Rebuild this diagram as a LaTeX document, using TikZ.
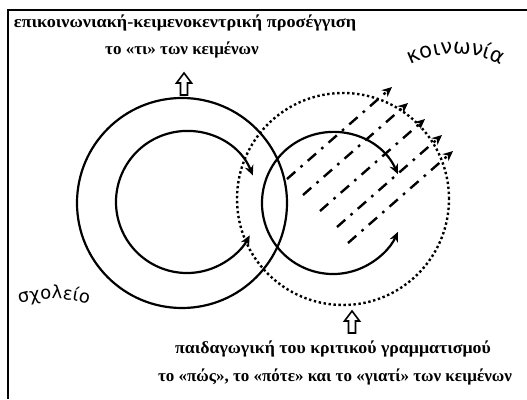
\documentclass[tikz,border=0pt]{standalone}
\usepackage{fontspec}
\setmainfont{Liberation Serif}
\newfontfamily\grsans{DejaVu Sans}
\usetikzlibrary{arrows.meta,decorations.text,calc}
\begin{document}
\begin{tikzpicture}[x=1pt,y=1pt,
  circ/.style={line width=2.2pt},
  dotc/.style={line width=2.4pt, dash pattern=on 2.4pt off 2.6pt},
  ray/.style={line width=2.4pt, dash pattern=on 11pt off 7pt on 2.6pt off 7pt, -{Stealth[length=10pt,width=9pt]}},
  cyc/.style={line width=2.2pt, {Stealth[length=10pt,width=9pt]}-{Stealth[length=10pt,width=9pt]}},
  lbl/.style={font=\bfseries\fontsize{17}{20}\selectfont, anchor=base, inner sep=0pt},
  frameline/.style={line width=2pt},
  hollow/.style={line width=1.6pt, line join=miter},
  hollowarrow/.pic={\draw[hollow] (0,0) -- (7.5,-10) -- (3.5,-10) -- (3.5,-22) -- (-3.5,-22) -- (-3.5,-10) -- (-7.5,-10) -- cycle;}
]
\useasboundingbox (0,0) rectangle (527,399);
% frame
\coordinate (fc) at (8,389);
\coordinate (fr) at (527,389);
\coordinate (fb) at (8,0);
\draw[frameline] (fr) -- (fc) -- (fb);
% circles
\draw[circ] (182,196) circle[radius=105];
\draw[cyc] (187,197) ++(22:71) arc[start angle=22, end angle=332, radius=71];
\draw[cyc] (333,196) ++(24:71) arc[start angle=24, end angle=336, radius=71];
\draw[dotc] (343,200) circle[radius=106];
% rays
\foreach \i/\sx/\sy in {1/287/220, 2/303/204, 3/320/188, 4/337/172, 5/348/156}{
  \coordinate (s\i) at (\sx,\sy);
  \coordinate (e\i) at ($(s\i)+(105,92)$);
  \draw[ray] (s\i) -- (e\i);
}
% hollow arrows
\pic at (184,326) {hollowarrow};
\pic at (352,88) {hollowarrow};
% texts
\node[lbl] (t1) at (185,371) {\scalebox{1.07}[1]{επικοινωνιακή-κειμενοκεντρική προσέγγιση}};
\node[lbl] (t2) at (182,344) {το «τι» των κειμένων};
\node[lbl] (b1) at (333,46) {\scalebox{1.05}[1]{παιδαγωγική του κριτικού γραμματισμού}};
\node[lbl] (b2) at (335,18) {το «πώς», το «πότε» και το «γιατί» των κειμένων};
% curved labels
\path[decorate, decoration={text along path, text align=center,
  text={|\grsans\fontsize{21}{25}\selectfont|κοινωνία}}]
  (456,245) ++(145:100) arc[start angle=145, end angle=35, radius=100];
\path[decorate, decoration={text along path, text align=center,
  text={|\grsans\fontsize{18}{22}\selectfont|σχολείο}}]
  (54,-20) ++(115:120) arc[start angle=115, end angle=65, radius=120];
\end{tikzpicture}
\end{document}
